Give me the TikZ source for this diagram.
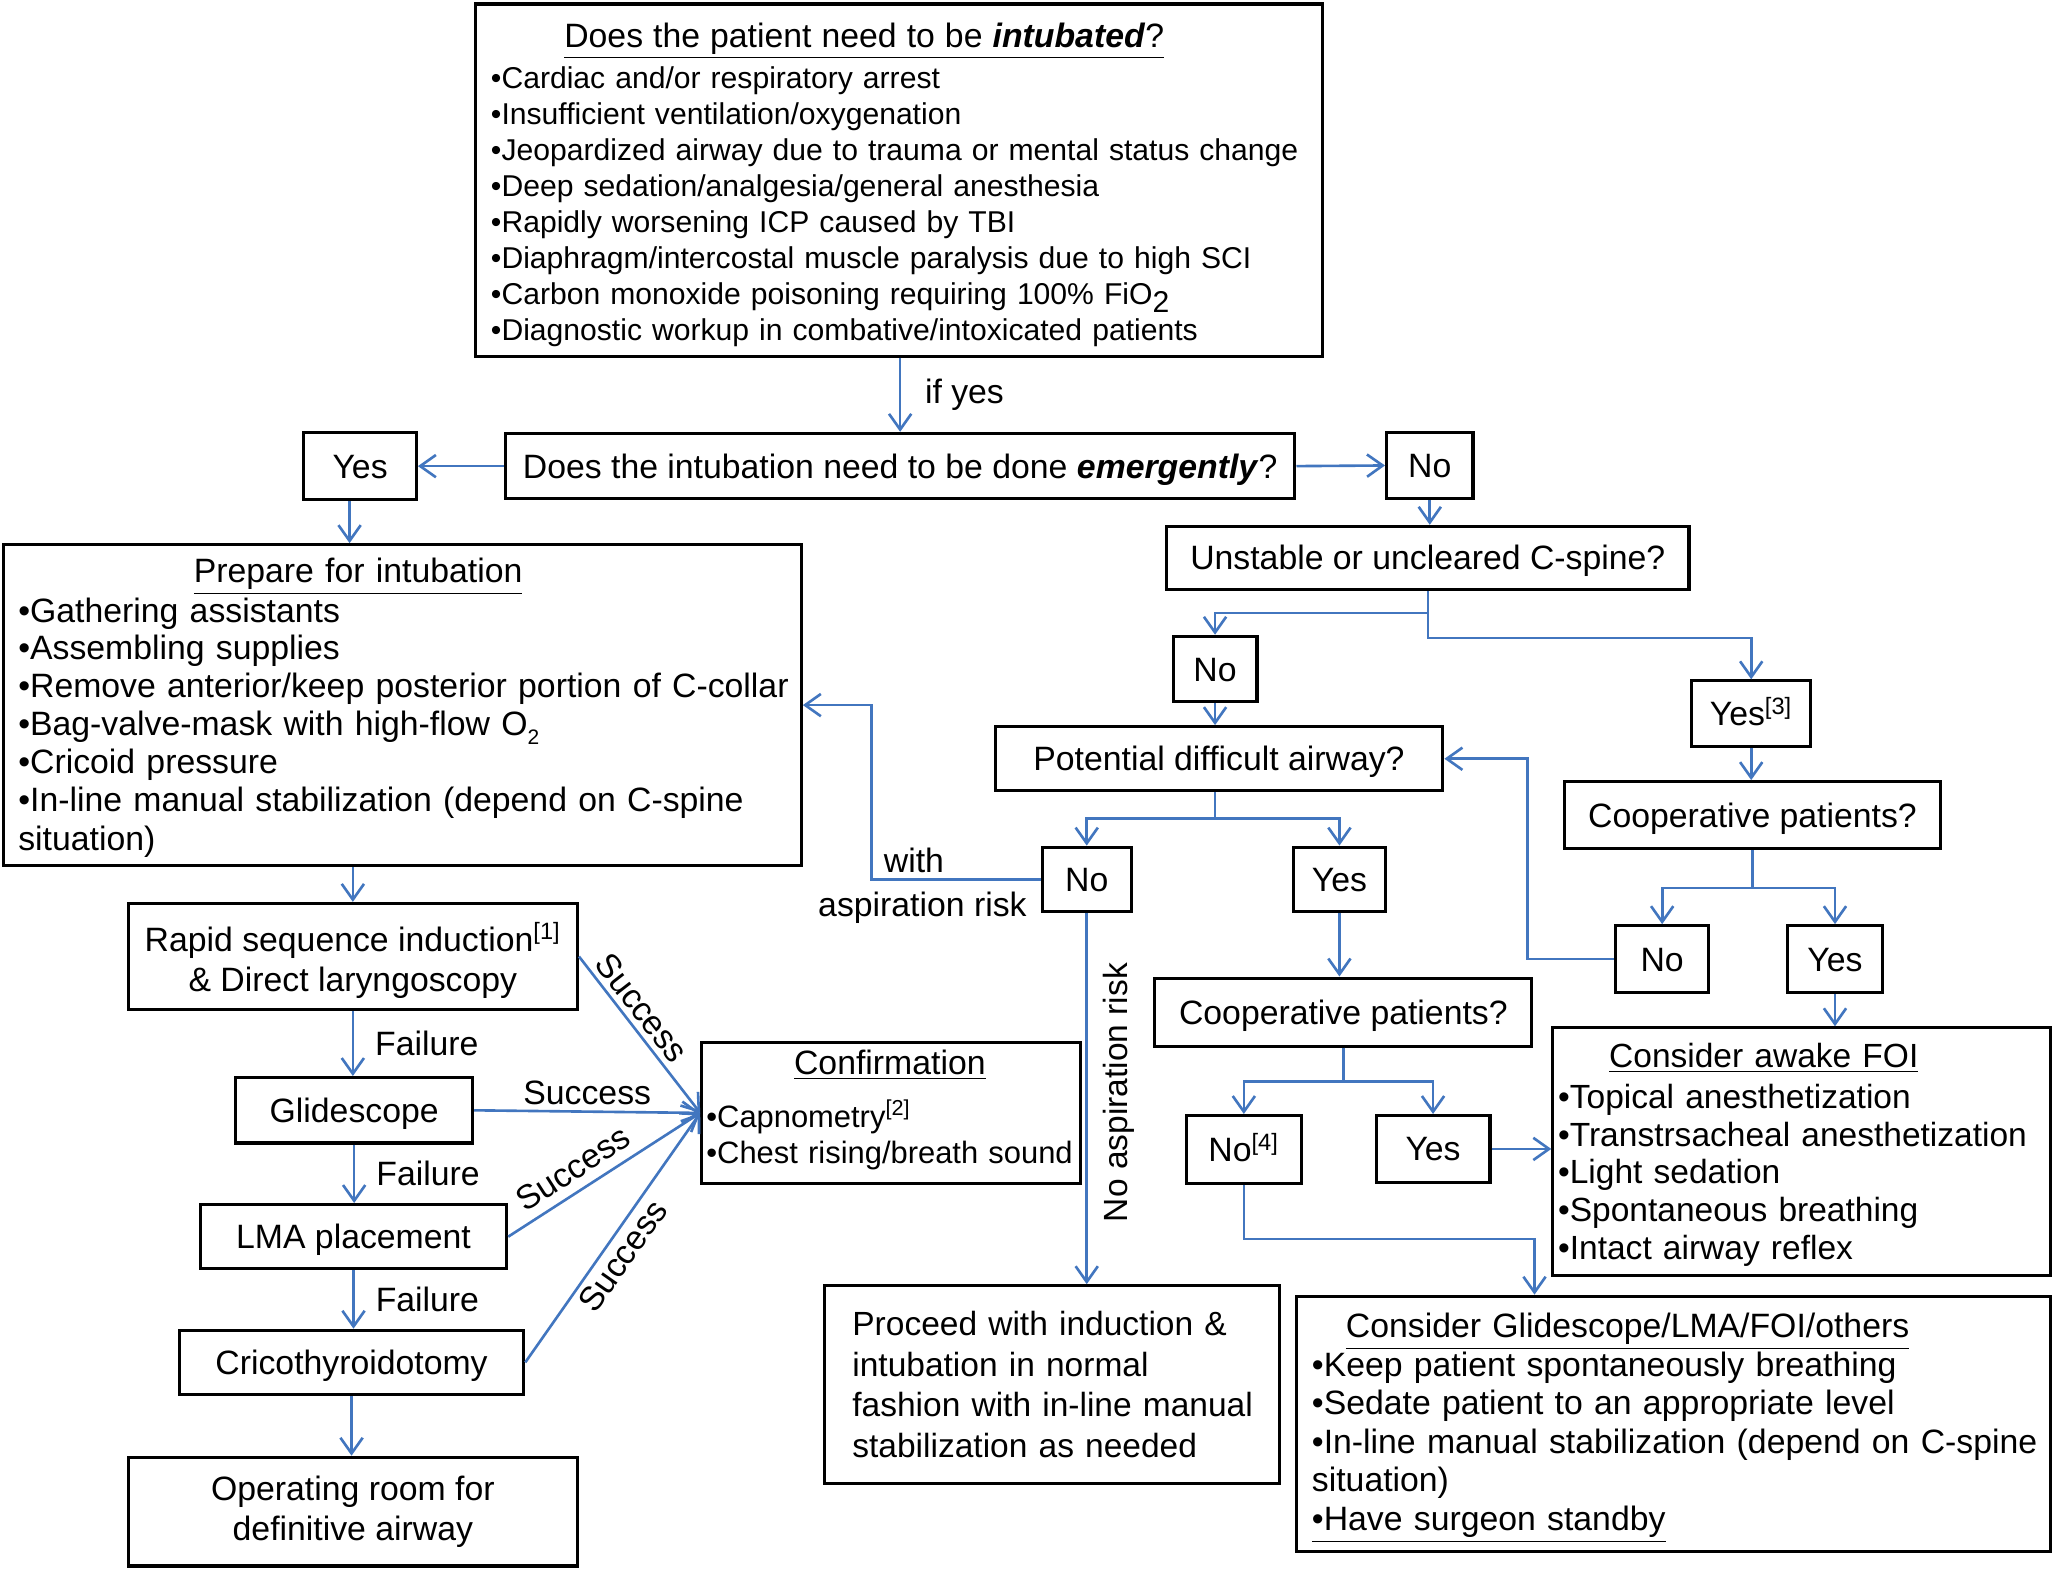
\documentclass[tikz,border=0pt]{standalone}
\usepackage{fontspec}
\setmainfont{Liberation Sans}
\usetikzlibrary{arrows.meta,calc}
\definecolor{lineblue}{RGB}{66,118,191}
\newcommand{\myfs}{\fontsize{12.9}{15.5}\selectfont}
\newcommand{\subtwo}{\raisebox{-0.5ex}{2}}
\newcommand{\vstrut}[1]{\rule{0pt}{#1}}
\begin{document}
\begin{tikzpicture}[x=0.5pt,y=-0.5pt,
  box/.style={draw=black, line width=1.2pt, inner sep=0pt, align=center, font=\myfs},
  sbox/.style={box, text height=11pt, text depth=1.8pt},
  lbox/.style={box, align=left},
  arr/.style={draw=lineblue, line width=1pt, -{Straight Barb[length=6pt,width=8.5pt]}},
  lbl/.style={font=\myfs, inner sep=2pt}]
\fill[white] (0,0) rectangle (1568,1200);
\useasboundingbox (0,0) rectangle (1568,1200);

% top decision
\node[lbox, minimum width=323.5pt, minimum height=134.5pt, text width=311.5pt,
      font=\fontsize{11.5}{13.75}\selectfont] (top) at (686.5,137.5)
 {\vstrut{12.8pt}\hspace*{28pt}{\myfs\underline{Does the patient need to be \textbf{\textit{intubated}}?}}\\[2pt]
  •Cardiac and/or respiratory arrest\\
  •Insufficient ventilation/oxygenation\\
  \mbox{•Jeopardized airway due to trauma or mental status change}\\
  •Deep sedation/analgesia/general anesthesia\\
  •Rapidly worsening ICP caused by TBI\\
  \mbox{•Diaphragm/intercostal muscle paralysis due to high SCI}\\
  •Carbon monoxide poisoning requiring 100\% FiO\subtwo\\
  •Diagnostic workup in combative/intoxicated patients};

\node[sbox, minimum width=301.5pt, minimum height=25pt] (q2) at (687.5,356)
 {Does the intubation need to be done \textbf{\textit{emergently}}?};
\node[sbox, minimum width=43pt, minimum height=25.5pt] (yes1) at (275,356) {Yes};
\node[sbox, minimum width=33pt, minimum height=25.5pt] (no1) at (1092,355.5) {No};

% left column
\node[lbox, minimum width=304.5pt, minimum height=122.5pt, text width=293.5pt,
      font=\fontsize{12.9}{14.45}\selectfont] (prep) at (307.5,538.5)
 {\vstrut{11.5pt}\hspace*{67pt}\underline{Prepare for intubation}\\[0.5pt]
  •Gathering assistants\\
  •Assembling supplies\\
  \mbox{•Remove anterior/keep posterior portion of C-collar}\\
  •Bag-valve-mask with high-flow O\raisebox{-0.5ex}{\footnotesize 2}\\
  •Cricoid pressure\\
  \mbox{•In-line manual stabilization (depend on C-spine}\\[0.5pt]
  situation)};

\node[box, minimum width=171.5pt, minimum height=40.5pt] (rsi) at (269.5,730.5)
 {\vstrut{14pt}Rapid sequence induction\textsuperscript{[1]}\\\& Direct laryngoscopy};
\node[sbox, minimum width=90.5pt, minimum height=25pt] (glide) at (270.5,848) {Glidescope};
\node[sbox, minimum width=117pt, minimum height=24.5pt] (lma) at (270,944.5) {LMA placement};
\node[sbox, minimum width=131.5pt, minimum height=24.5pt] (crico) at (268.5,1040.5) {Cricothyroidotomy};
\node[box, minimum width=171.5pt, minimum height=41.5pt] (orroom) at (269.5,1154.5)
 {Operating room for\\definitive airway};

\node[lbox, minimum width=144.5pt, minimum height=54pt, text width=141pt,
      font=\fontsize{11.8}{14}\selectfont] (confirm) at (680.5,850)
 {\hspace*{33.5pt}{\myfs\underline{Confirmation}}\\[6pt]
  •Capnometry\textsuperscript{[2]}\\
  \mbox{•Chest rising/breath sound}\rule[-4.5pt]{0pt}{1pt}};

% middle / right
\node[sbox, minimum width=199.5pt, minimum height=24pt] (unstable) at (1090.5,426) {Unstable or uncleared C-spine?};
\node[sbox, minimum width=32pt, minimum height=25pt] (no2) at (928,511) {No};
\node[sbox, minimum width=45.5pt, minimum height=25pt] (yes3) at (1337.5,545) {Yes\textsuperscript{[3]}};
\node[sbox, minimum width=171pt, minimum height=24.5pt] (potential) at (931,579.5) {Potential difficult airway?};
\node[sbox, minimum width=143.5pt, minimum height=25.5pt] (coopR) at (1338.5,622.5) {Cooperative patients?};
\node[sbox, minimum width=35.5pt, minimum height=25.5pt] (noR) at (1269.5,732.5) {No};
\node[sbox, minimum width=36.5pt, minimum height=25.5pt] (yesR) at (1401.5,732.5) {Yes};
\node[sbox, minimum width=34pt, minimum height=24.5pt] (noC) at (830,671.5) {No};
\node[sbox, minimum width=35pt, minimum height=24.5pt] (yesC) at (1023,671.5) {Yes};
\node[sbox, minimum width=144pt, minimum height=26pt] (coopC) at (1026,773) {Cooperative patients?};
\node[sbox, minimum width=44pt, minimum height=26pt] (no4) at (950,878) {No\textsuperscript{[4]}};
\node[sbox, minimum width=43.5pt, minimum height=25.5pt] (yes4) at (1094.5,877.5) {Yes};

\node[lbox, minimum width=173.5pt, minimum height=75.5pt, text width=152.5pt,
      font=\fontsize{12.8}{15.5}\selectfont] (proceed) at (803.5,1057.5)
 {\mbox{Proceed with induction \&}\\
  intubation in normal\\
  \mbox{fashion with in-line manual}\\
  stabilization as needed};

\node[lbox, minimum width=190pt, minimum height=94.5pt, text width=186pt,
      font=\fontsize{12.8}{14.35}\selectfont] (foi) at (1376,879.5)
 {\vstrut{11.5pt}\hspace*{19.5pt}\underline{Consider awake FOI}\\[1.5pt]
  •Topical anesthetization\\
  \mbox{•Transtrsacheal anesthetization}\\
  •Light sedation\\
  •Spontaneous breathing\\
  •Intact airway reflex};

\node[lbox, minimum width=288pt, minimum height=97.5pt, text width=276pt,
      font=\fontsize{12.9}{14.7}\selectfont] (glideC) at (1278,1087.5)
 {\vstrut{12.5pt}\hspace*{13pt}\underline{Consider Glidescope/LMA/FOI/others}\\
  •Keep patient spontaneously breathing\\
  •Sedate patient to an appropriate level\\
  \mbox{•In-line manual stabilization (depend on C-spine}\\
  situation)\\
  \underline{•Have surgeon standby}};

% connectors
\draw[arr] (top.south -| q2.north) -- (q2.north) node[midway, right=7pt, lbl] {if yes};
\draw[arr] (q2.west) -- (yes1.east);
\draw[arr] (q2.east) -- (no1.west);
\draw[arr] ([xshift=-4pt]yes1.south) -- ([xshift=-4pt]yes1.south |- prep.north);
\draw[arr] (prep.south -| rsi.north) -- (rsi.north);
\draw[arr] (rsi.south) -- (rsi.south |- glide.north) node[midway, right=6pt, lbl] {Failure};
\draw[arr] (glide.south) -- (glide.south |- lma.north) node[midway, right=6pt, lbl] {Failure};
\draw[arr] (lma.south) -- (lma.south |- crico.north) node[midway, right=6pt, lbl] {Failure};
\draw[arr] (crico.south) -- (crico.south |- orroom.north);

\draw[arr] (rsi.east) -- (confirm.west) node[pos=0.4, sloped, above, lbl] {Success};
\draw[arr] (glide.east) -- (confirm.west) node[midway, above, lbl] {Success};
\draw[arr] (lma.east) -- (confirm.west) node[pos=0.4, sloped, above=1.5pt, lbl] {Success};
\draw[arr] (crico.east) -- (confirm.west) node[pos=0.47, sloped, below, lbl] {Success};

\draw[arr] (no1.south) -- (no1.south |- unstable.north);
\draw[arr] (unstable.south) -- ++(0,17) -| (no2.north);
\draw[arr] (unstable.south) -- ++(0,36) -| (yes3.north);
\draw[arr] (no2.south) -- (no2.south |- potential.north);
\draw[arr] (yes3.south) -- (yes3.south |- coopR.north);
\draw[arr] ([xshift=-1.5pt]potential.south) -- ++(0,20) -| (noC.north);
\draw[arr] ([xshift=-1.5pt]potential.south) -- ++(0,20) -| (yesC.north);
\draw[arr] (coopR.south) -- ++(0,29) -| (noR.north);
\draw[arr] (coopR.south) -- ++(0,29) -| (yesR.north);
\draw[arr] (noR.west) -- ++(-66,0) |- (potential.east);
\draw[arr] (yesR.south) -- (yesR.south |- foi.north);
\draw[arr] (noC.west) -- ++(-129,0) node[pos=0.75, above, lbl] {with}
  node[pos=0.7, below=2.5pt, lbl] {aspiration risk} |- (prep.east);
\draw[arr] (noC.south) -- (noC.south |- proceed.north) coordinate[pos=0.484] (narp);
\node[lbl, rotate=90, anchor=north, font=\fontsize{12.8}{15}\selectfont] (nar) at ([xshift=4pt]narp) {No aspiration risk};
\draw[arr] (yesC.south) -- (yesC.south |- coopC.north);
\draw[arr] (coopC.south) -- ++(0,26) -| (no4.north);
\draw[arr] (coopC.south) -- ++(0,26) -| (yes4.north);
\draw[arr] (yes4.east) -- (yes4.east -| foi.west);
\coordinate (gtop) at (1172,0);
\draw[arr] (no4.south) -- ++(0,41) -| (gtop |- glideC.north);
\end{tikzpicture}
\end{document}
